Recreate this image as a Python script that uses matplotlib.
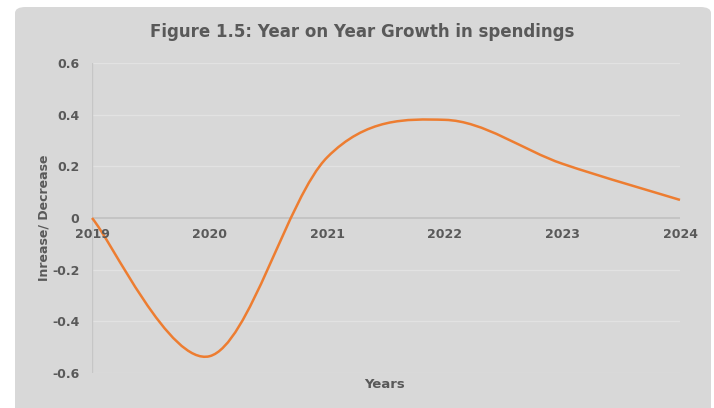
import numpy as np
import matplotlib
matplotlib.use("Agg")
import matplotlib.pyplot as plt
from matplotlib.path import Path
from matplotlib.patches import PathPatch, FancyBboxPatch

# data
years = [2019, 2020, 2021, 2022, 2023, 2024]
growth = [0.0, -0.535, 0.235, 0.38, 0.21, 0.07]
yticks = [-0.6, -0.4, -0.2, 0, 0.2, 0.4, 0.6]

txt = "#595959"
bg = "#d8d8d8"

fig = plt.figure(figsize=(7.14, 4.08), dpi=100)
fig.patch.set_facecolor("white")

# gray chart frame with rounded corners
frame = FancyBboxPatch((15 / 714, -0.05), 696 / 714, 1 - 7 / 408 + 0.05,
                       boxstyle="round,pad=0,rounding_size=0.015",
                       transform=fig.transFigure, facecolor=bg, edgecolor="none",
                       zorder=-10)
fig.patches.append(frame)

ax = fig.add_axes([92 / 714, 1 - 373 / 408, (680 - 92) / 714, (373 - 63) / 408])
ax.set_facecolor(bg)
ax.patch.set_alpha(0)

ax.set_xlim(years[0], years[-1])
ax.set_ylim(-0.6, 0.6)

# grid
for v in yticks:
    if v == 0:
        continue
    ax.axhline(v, color="#e2e2e2", lw=1, zorder=0)
ax.axhline(0, color="#c0c0c0", lw=1.2, zorder=1)
ax.axvline(years[0], color="#c6c6c6", lw=1, zorder=1)

# smoothed line like excel (catmull-rom bezier)
x = np.array(years, dtype=float)
y = np.array(growth)
verts = [(x[0], y[0])]
codes = [Path.MOVETO]
n = len(x)
for i in range(n - 1):
    p0 = (x[i - 1], y[i - 1]) if i > 0 else (x[i], y[i])
    p1 = (x[i], y[i])
    p2 = (x[i + 1], y[i + 1])
    p3 = (x[i + 2], y[i + 2]) if i + 2 < n else (x[i + 1], y[i + 1])
    c1 = (p1[0] + (p2[0] - p0[0]) / 6, p1[1] + (p2[1] - p0[1]) / 6)
    c2 = (p2[0] - (p3[0] - p1[0]) / 6, p2[1] - (p3[1] - p1[1]) / 6)
    verts += [c1, c2, p2]
    codes += [Path.CURVE4] * 3
ax.add_patch(PathPatch(Path(verts, codes), facecolor="none",
                       edgecolor="#ed7d31", lw=1.8, zorder=3, clip_on=False))

for s in ax.spines.values():
    s.set_visible(False)
ax.set_xticks([])
ax.set_yticks(yticks)
ax.set_yticklabels(["-0.6", "-0.4", "-0.2", "0", "0.2", "0.4", "0.6"])
ax.tick_params(axis="y", length=0, pad=9, labelcolor=txt, labelsize=9)
for lab in ax.get_yticklabels():
    lab.set_fontweight("bold")

# year labels sit just under the zero line
for yr in years:
    ax.text(yr, -0.04, str(yr), ha="center", va="top", fontsize=9,
            fontweight="bold", color=txt)

fig.text(362 / 714, 1 - 32 / 408, "Figure 1.5: Year on Year Growth in spendings",
         ha="center", va="center", fontsize=12, fontweight="bold", color=txt)
fig.text(44 / 714, 1 - 218 / 408, "Inrease/ Decrease", rotation=90,
         ha="center", va="center", fontsize=9, fontweight="bold", color=txt)
fig.text(385 / 714, 1 - 384 / 408, "Years", ha="center", va="center",
         fontsize=9.5, fontweight="bold", color=txt)

fig.savefig("out.png", dpi=100, facecolor="white")
